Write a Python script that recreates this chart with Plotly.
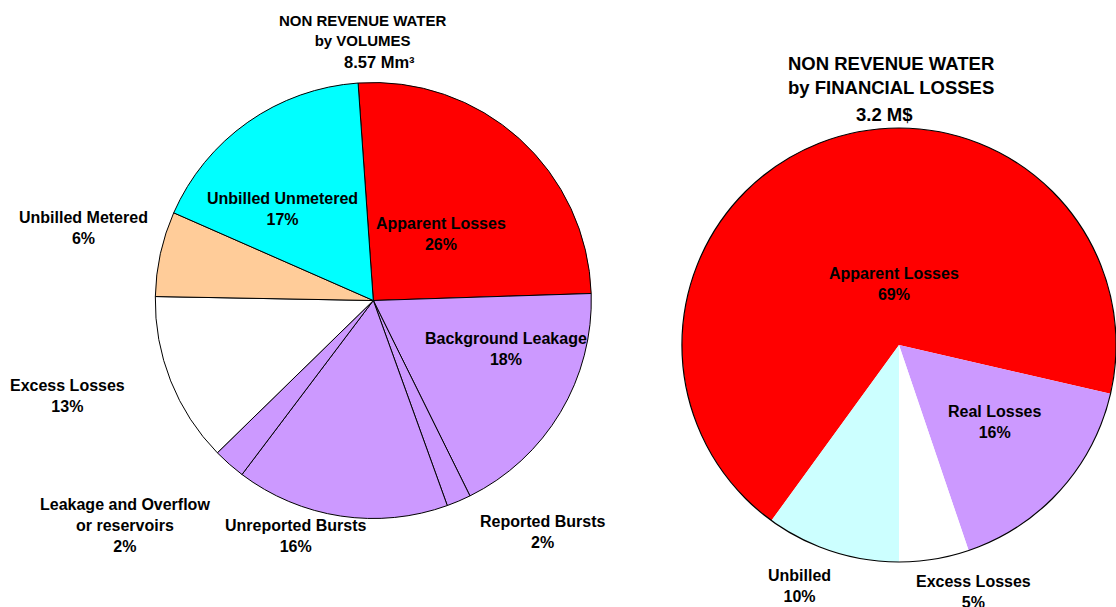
import plotly.graph_objects as go

# ---------------- data ----------------
vol_categories = ["Apparent Losses", "Background Leakage", "Reported Bursts",
                  "Unreported Bursts", "Leakage and Overflow or reservoirs",
                  "Excess Losses", "Unbilled Metered", "Unbilled Unmetered"]
vol_values = [25.6, 18.2, 1.8, 15.8, 2.4, 12.6, 6.3, 17.3]
vol_total_label = "8.57 Mm³"

fin_categories = ["Apparent Losses", "Real Losses", "Excess Losses", "Unbilled"]
fin_values = [68.6, 16.2, 5.2, 10.0]
fin_total_label = "3.2 M$"

# ---------------- styles ----------------
W, H = 1116, 607
vol_colors = ["#FF0000", "#CC99FF", "#CC99FF", "#CC99FF", "#CC99FF",
              "#FFFFFF", "#FFCC99", "#00FFFF"]
fin_colors = ["#FF0000", "#CC99FF", "#FFFFFF", "#CCFFFF"]

# label block centres (pixels)
vol_label_pos = [(441, 234.5), (505.5, 349), (542.5, 532), (295, 536),
                 (124.5, 525), (67, 396), (83, 228), (282, 208.5)]
fin_label_pos = [(894, 284), (994.5, 421.5), (973.7, 592), (799, 586)]

FONT = "Liberation Sans, Arial, sans-serif"


def px_dom(cx, cy, r):
    return dict(x=[max(0.0, (cx - r) / W), min(1.0, (cx + r) / W)],
                y=[(H - cy - r) / H, (H - cy + r) / H])


def wrap(name):
    return name.replace(" or ", "<br>or ")


def pct_text(values):
    tot = sum(values)
    return [f"{round(v / tot * 100)}%" for v in values]


fig = go.Figure()

left_dom = px_dom(373.3, 300.5, 218)
right_dom = px_dom(899, 345, 217)

fig.add_trace(go.Pie(
    labels=vol_categories, values=vol_values, sort=False,
    direction="clockwise", rotation=-4,
    marker=dict(colors=vol_colors, line=dict(color="black", width=1)),
    textinfo="none", hoverinfo="label+percent", showlegend=False,
    domain=left_dom,
))

fig.add_trace(go.Pie(
    labels=fin_categories, values=fin_values, sort=False,
    direction="clockwise", rotation=216,
    marker=dict(colors=fin_colors, line=dict(color="black", width=0)),
    textinfo="none", hoverinfo="label+percent", showlegend=False,
    domain=right_dom,
))
# outline of the financial pie (single transparent slice)
fig.add_trace(go.Pie(
    labels=["outline"], values=[1], sort=False,
    marker=dict(colors=["rgba(0,0,0,0)"], line=dict(color="black", width=1.2)),
    textinfo="none", hoverinfo="skip", showlegend=False,
    domain=right_dom,
))

ann = []


def add_text(text, x, y, size=16):
    ann.append(dict(text=text, x=x / W, y=1 - y / H, xref="paper", yref="paper",
                    xanchor="center", yanchor="middle", showarrow=False,
                    font=dict(family=FONT, size=size, color="black", weight="bold")))


for name, pct, (x, y) in zip(vol_categories, pct_text(vol_values), vol_label_pos):
    add_text(f"{wrap(name)}<br>{pct}", x, y)
for name, pct, (x, y) in zip(fin_categories, pct_text(fin_values), fin_label_pos):
    add_text(f"{name}<br>{pct}", x, y)

add_text("NON REVENUE WATER<br>by VOLUMES", 362, 30, size=15)
add_text(vol_total_label, 379, 62, size=16.5)
add_text("NON REVENUE WATER<br>by FINANCIAL LOSSES", 891, 75, size=18.5)
add_text(fin_total_label, 884, 114, size=18.5)

fig.update_layout(
    width=W, height=H, margin=dict(l=0, r=0, t=0, b=0),
    paper_bgcolor="white", plot_bgcolor="white",
    annotations=ann, font=dict(family=FONT),
)

fig.write_html("out.html",
               config={"displayModeBar": False},
               post_script="document.body.style.margin='0px';")
